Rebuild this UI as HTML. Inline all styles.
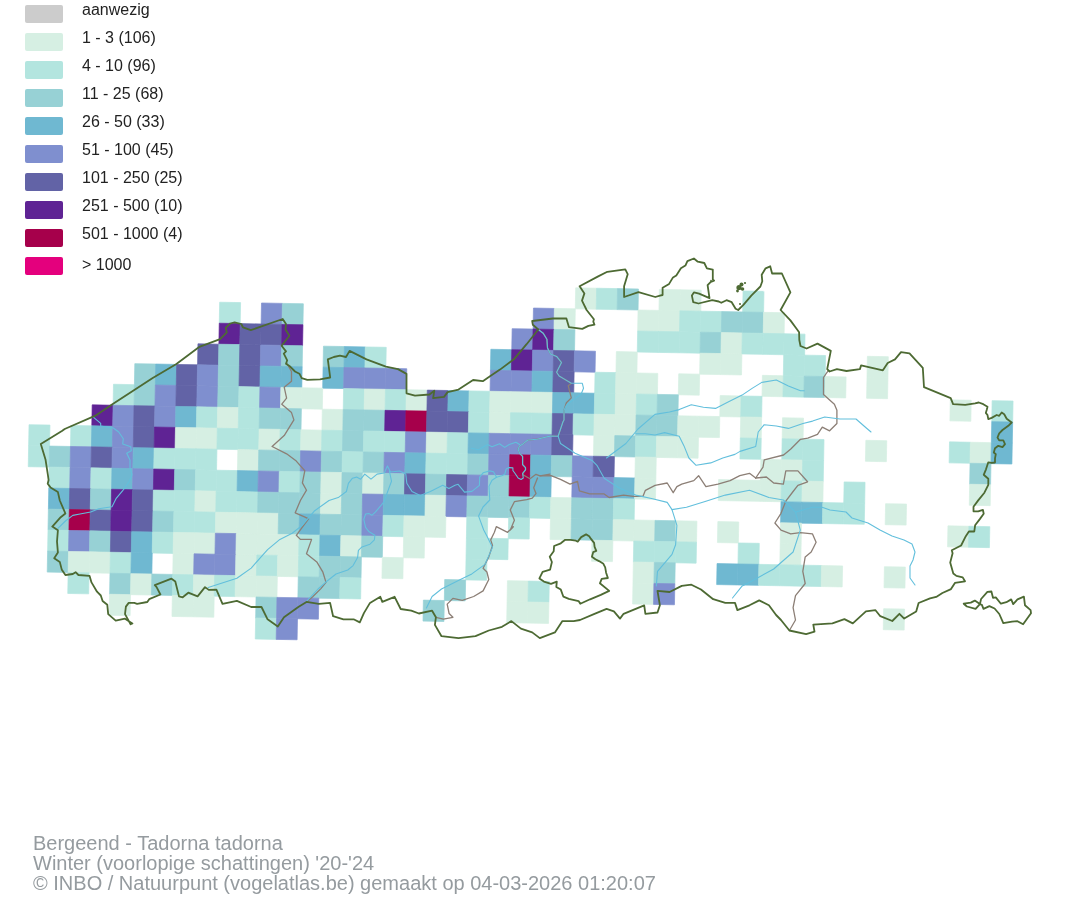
<!DOCTYPE html>
<html><head><meta charset="utf-8"><style>
html,body{margin:0;padding:0;background:#fff;}
body{width:1074px;height:900px;position:relative;overflow:hidden;font-family:"Liberation Sans",sans-serif;}
.sw{position:absolute;left:25px;width:38px;height:18px;border-radius:2px;}
.lb{position:absolute;left:82px;will-change:transform;font-size:16px;line-height:20px;color:#222;white-space:nowrap;}
svg{position:absolute;left:0;top:0;}
.ft{position:absolute;left:33px;top:833px;will-change:transform;font-size:20px;line-height:20px;color:#959b9f;white-space:nowrap;}
</style></head><body>
<div class="sw" style="top:5px;background:#cccccc"></div><div class="lb" style="top:0px">aanwezig</div><div class="sw" style="top:33px;background:#d6efe3"></div><div class="lb" style="top:28px">1 - 3 (106)</div><div class="sw" style="top:61px;background:#b3e5df"></div><div class="lb" style="top:56px">4 - 10 (96)</div><div class="sw" style="top:89px;background:#97d1d5"></div><div class="lb" style="top:84px">11 - 25 (68)</div><div class="sw" style="top:117px;background:#6fb8d1"></div><div class="lb" style="top:112px">26 - 50 (33)</div><div class="sw" style="top:145px;background:#7f8fcf"></div><div class="lb" style="top:140px">51 - 100 (45)</div><div class="sw" style="top:173px;background:#6263a6"></div><div class="lb" style="top:168px">101 - 250 (25)</div><div class="sw" style="top:201px;background:#5f2394"></div><div class="lb" style="top:196px">251 - 500 (10)</div><div class="sw" style="top:229px;background:#a6004b"></div><div class="lb" style="top:224px">501 - 1000 (4)</div><div class="sw" style="top:257px;background:#e4007d"></div><div class="lb" style="top:255px">&gt; 1000</div>
<svg width="1074" height="900" viewBox="0 0 1074 900">
<g stroke-width="0.7"><path fill="#d6efe3" stroke="#d6efe3" d="M575.69 287.84L596.61 288.23L596.22 309.23L575.3 308.84Z"/><path fill="#b3e5df" stroke="#b3e5df" d="M596.61 288.23L617.53 288.62L617.14 309.62L596.22 309.23Z"/><path fill="#97d1d5" stroke="#97d1d5" d="M617.53 288.62L638.45 289.01L638.06 310.01L617.14 309.62Z"/><path fill="#d6efe3" stroke="#d6efe3" d="M659.37 289.4L680.29 289.79L679.9 310.79L658.98 310.4Z"/><path fill="#d6efe3" stroke="#d6efe3" d="M680.29 289.79L701.21 290.18L700.82 311.18L679.9 310.79Z"/><path fill="#b3e5df" stroke="#b3e5df" d="M743.05 290.96L763.97 291.35L763.58 312.35L742.66 311.96Z"/><path fill="#b3e5df" stroke="#b3e5df" d="M219.66 302.21L240.58 302.6L240.19 323.6L219.27 323.21Z"/><path fill="#7f8fcf" stroke="#7f8fcf" d="M261.5 302.99L282.42 303.38L282.03 324.38L261.11 323.99Z"/><path fill="#97d1d5" stroke="#97d1d5" d="M282.42 303.38L303.34 303.77L302.95 324.77L282.03 324.38Z"/><path fill="#7f8fcf" stroke="#7f8fcf" d="M533.46 308.06L554.38 308.45L553.99 329.45L533.07 329.06Z"/><path fill="#d6efe3" stroke="#d6efe3" d="M554.38 308.45L575.3 308.84L574.91 329.84L553.99 329.45Z"/><path fill="#d6efe3" stroke="#d6efe3" d="M638.06 310.01L658.98 310.4L658.59 331.4L637.67 331.01Z"/><path fill="#d6efe3" stroke="#d6efe3" d="M658.98 310.4L679.9 310.79L679.51 331.79L658.59 331.4Z"/><path fill="#b3e5df" stroke="#b3e5df" d="M679.9 310.79L700.82 311.18L700.43 332.18L679.51 331.79Z"/><path fill="#b3e5df" stroke="#b3e5df" d="M700.82 311.18L721.74 311.57L721.35 332.57L700.43 332.18Z"/><path fill="#97d1d5" stroke="#97d1d5" d="M721.74 311.57L742.66 311.96L742.27 332.96L721.35 332.57Z"/><path fill="#97d1d5" stroke="#97d1d5" d="M742.66 311.96L763.58 312.35L763.19 333.35L742.27 332.96Z"/><path fill="#d6efe3" stroke="#d6efe3" d="M763.58 312.35L784.5 312.74L784.11 333.74L763.19 333.35Z"/><path fill="#5f2394" stroke="#5f2394" d="M219.27 323.21L240.19 323.6L239.8 344.6L218.88 344.21Z"/><path fill="#6263a6" stroke="#6263a6" d="M240.19 323.6L261.11 323.99L260.72 344.99L239.8 344.6Z"/><path fill="#6263a6" stroke="#6263a6" d="M261.11 323.99L282.03 324.38L281.64 345.38L260.72 344.99Z"/><path fill="#5f2394" stroke="#5f2394" d="M282.03 324.38L302.95 324.77L302.56 345.77L281.64 345.38Z"/><path fill="#7f8fcf" stroke="#7f8fcf" d="M512.15 328.67L533.07 329.06L532.68 350.06L511.76 349.67Z"/><path fill="#5f2394" stroke="#5f2394" d="M533.07 329.06L553.99 329.45L553.6 350.45L532.68 350.06Z"/><path fill="#97d1d5" stroke="#97d1d5" d="M553.99 329.45L574.91 329.84L574.52 350.84L553.6 350.45Z"/><path fill="#b3e5df" stroke="#b3e5df" d="M637.67 331.01L658.59 331.4L658.2 352.4L637.28 352.01Z"/><path fill="#b3e5df" stroke="#b3e5df" d="M658.59 331.4L679.51 331.79L679.12 352.79L658.2 352.4Z"/><path fill="#b3e5df" stroke="#b3e5df" d="M679.51 331.79L700.43 332.18L700.04 353.18L679.12 352.79Z"/><path fill="#97d1d5" stroke="#97d1d5" d="M700.43 332.18L721.35 332.57L720.96 353.57L700.04 353.18Z"/><path fill="#d6efe3" stroke="#d6efe3" d="M721.35 332.57L742.27 332.96L741.88 353.96L720.96 353.57Z"/><path fill="#b3e5df" stroke="#b3e5df" d="M742.27 332.96L763.19 333.35L762.8 354.35L741.88 353.96Z"/><path fill="#b3e5df" stroke="#b3e5df" d="M763.19 333.35L784.11 333.74L783.72 354.74L762.8 354.35Z"/><path fill="#b3e5df" stroke="#b3e5df" d="M784.11 333.74L805.03 334.13L804.64 355.13L783.72 354.74Z"/><path fill="#6263a6" stroke="#6263a6" d="M197.96 343.82L218.88 344.21L218.49 365.21L197.57 364.82Z"/><path fill="#97d1d5" stroke="#97d1d5" d="M218.88 344.21L239.8 344.6L239.41 365.6L218.49 365.21Z"/><path fill="#6263a6" stroke="#6263a6" d="M239.8 344.6L260.72 344.99L260.33 365.99L239.41 365.6Z"/><path fill="#7f8fcf" stroke="#7f8fcf" d="M260.72 344.99L281.64 345.38L281.25 366.38L260.33 365.99Z"/><path fill="#97d1d5" stroke="#97d1d5" d="M281.64 345.38L302.56 345.77L302.17 366.77L281.25 366.38Z"/><path fill="#97d1d5" stroke="#97d1d5" d="M323.48 346.16L344.4 346.55L344.01 367.55L323.09 367.16Z"/><path fill="#6fb8d1" stroke="#6fb8d1" d="M344.4 346.55L365.32 346.94L364.93 367.94L344.01 367.55Z"/><path fill="#b3e5df" stroke="#b3e5df" d="M365.32 346.94L386.24 347.33L385.85 368.33L364.93 367.94Z"/><path fill="#6fb8d1" stroke="#6fb8d1" d="M490.84 349.28L511.76 349.67L511.37 370.67L490.45 370.28Z"/><path fill="#5f2394" stroke="#5f2394" d="M511.76 349.67L532.68 350.06L532.29 371.06L511.37 370.67Z"/><path fill="#7f8fcf" stroke="#7f8fcf" d="M532.68 350.06L553.6 350.45L553.21 371.45L532.29 371.06Z"/><path fill="#6263a6" stroke="#6263a6" d="M553.6 350.45L574.52 350.84L574.13 371.84L553.21 371.45Z"/><path fill="#7f8fcf" stroke="#7f8fcf" d="M574.52 350.84L595.44 351.23L595.05 372.23L574.13 371.84Z"/><path fill="#d6efe3" stroke="#d6efe3" d="M616.36 351.62L637.28 352.01L636.89 373.01L615.97 372.62Z"/><path fill="#d6efe3" stroke="#d6efe3" d="M700.04 353.18L720.96 353.57L720.57 374.57L699.65 374.18Z"/><path fill="#d6efe3" stroke="#d6efe3" d="M720.96 353.57L741.88 353.96L741.49 374.96L720.57 374.57Z"/><path fill="#b3e5df" stroke="#b3e5df" d="M783.72 354.74L804.64 355.13L804.25 376.13L783.33 375.74Z"/><path fill="#b3e5df" stroke="#b3e5df" d="M804.64 355.13L825.56 355.52L825.17 376.52L804.25 376.13Z"/><path fill="#d6efe3" stroke="#d6efe3" d="M867.4 356.3L888.32 356.69L887.93 377.69L867.01 377.3Z"/><path fill="#97d1d5" stroke="#97d1d5" d="M134.81 363.65L155.73 364.04L155.34 385.04L134.42 384.65Z"/><path fill="#6fb8d1" stroke="#6fb8d1" d="M155.73 364.04L176.65 364.43L176.26 385.43L155.34 385.04Z"/><path fill="#6263a6" stroke="#6263a6" d="M176.65 364.43L197.57 364.82L197.18 385.82L176.26 385.43Z"/><path fill="#7f8fcf" stroke="#7f8fcf" d="M197.57 364.82L218.49 365.21L218.1 386.21L197.18 385.82Z"/><path fill="#97d1d5" stroke="#97d1d5" d="M218.49 365.21L239.41 365.6L239.02 386.6L218.1 386.21Z"/><path fill="#6263a6" stroke="#6263a6" d="M239.41 365.6L260.33 365.99L259.94 386.99L239.02 386.6Z"/><path fill="#6fb8d1" stroke="#6fb8d1" d="M260.33 365.99L281.25 366.38L280.86 387.38L259.94 386.99Z"/><path fill="#6fb8d1" stroke="#6fb8d1" d="M281.25 366.38L302.17 366.77L301.78 387.77L280.86 387.38Z"/><path fill="#6fb8d1" stroke="#6fb8d1" d="M323.09 367.16L344.01 367.55L343.62 388.55L322.7 388.16Z"/><path fill="#7f8fcf" stroke="#7f8fcf" d="M344.01 367.55L364.93 367.94L364.54 388.94L343.62 388.55Z"/><path fill="#7f8fcf" stroke="#7f8fcf" d="M364.93 367.94L385.85 368.33L385.46 389.33L364.54 388.94Z"/><path fill="#7f8fcf" stroke="#7f8fcf" d="M385.85 368.33L406.77 368.72L406.38 389.72L385.46 389.33Z"/><path fill="#7f8fcf" stroke="#7f8fcf" d="M490.45 370.28L511.37 370.67L510.98 391.67L490.06 391.28Z"/><path fill="#7f8fcf" stroke="#7f8fcf" d="M511.37 370.67L532.29 371.06L531.9 392.06L510.98 391.67Z"/><path fill="#6fb8d1" stroke="#6fb8d1" d="M532.29 371.06L553.21 371.45L552.82 392.45L531.9 392.06Z"/><path fill="#6263a6" stroke="#6263a6" d="M553.21 371.45L574.13 371.84L573.74 392.84L552.82 392.45Z"/><path fill="#b3e5df" stroke="#b3e5df" d="M595.05 372.23L615.97 372.62L615.58 393.62L594.66 393.23Z"/><path fill="#d6efe3" stroke="#d6efe3" d="M615.97 372.62L636.89 373.01L636.5 394.01L615.58 393.62Z"/><path fill="#d6efe3" stroke="#d6efe3" d="M636.89 373.01L657.81 373.4L657.42 394.4L636.5 394.01Z"/><path fill="#d6efe3" stroke="#d6efe3" d="M678.73 373.79L699.65 374.18L699.26 395.18L678.34 394.79Z"/><path fill="#d6efe3" stroke="#d6efe3" d="M762.41 375.35L783.33 375.74L782.94 396.74L762.02 396.35Z"/><path fill="#b3e5df" stroke="#b3e5df" d="M783.33 375.74L804.25 376.13L803.86 397.13L782.94 396.74Z"/><path fill="#97d1d5" stroke="#97d1d5" d="M804.25 376.13L825.17 376.52L824.78 397.52L803.86 397.13Z"/><path fill="#d6efe3" stroke="#d6efe3" d="M825.17 376.52L846.09 376.91L845.7 397.91L824.78 397.52Z"/><path fill="#d6efe3" stroke="#d6efe3" d="M867.01 377.3L887.93 377.69L887.54 398.69L866.62 398.3Z"/><path fill="#b3e5df" stroke="#b3e5df" d="M113.5 384.26L134.42 384.65L134.03 405.65L113.11 405.26Z"/><path fill="#97d1d5" stroke="#97d1d5" d="M134.42 384.65L155.34 385.04L154.95 406.04L134.03 405.65Z"/><path fill="#7f8fcf" stroke="#7f8fcf" d="M155.34 385.04L176.26 385.43L175.87 406.43L154.95 406.04Z"/><path fill="#6263a6" stroke="#6263a6" d="M176.26 385.43L197.18 385.82L196.79 406.82L175.87 406.43Z"/><path fill="#7f8fcf" stroke="#7f8fcf" d="M197.18 385.82L218.1 386.21L217.71 407.21L196.79 406.82Z"/><path fill="#97d1d5" stroke="#97d1d5" d="M218.1 386.21L239.02 386.6L238.63 407.6L217.71 407.21Z"/><path fill="#b3e5df" stroke="#b3e5df" d="M239.02 386.6L259.94 386.99L259.55 407.99L238.63 407.6Z"/><path fill="#7f8fcf" stroke="#7f8fcf" d="M259.94 386.99L280.86 387.38L280.47 408.38L259.55 407.99Z"/><path fill="#d6efe3" stroke="#d6efe3" d="M280.86 387.38L301.78 387.77L301.39 408.77L280.47 408.38Z"/><path fill="#d6efe3" stroke="#d6efe3" d="M301.78 387.77L322.7 388.16L322.31 409.16L301.39 408.77Z"/><path fill="#b3e5df" stroke="#b3e5df" d="M343.62 388.55L364.54 388.94L364.15 409.94L343.23 409.55Z"/><path fill="#d6efe3" stroke="#d6efe3" d="M364.54 388.94L385.46 389.33L385.07 410.33L364.15 409.94Z"/><path fill="#b3e5df" stroke="#b3e5df" d="M385.46 389.33L406.38 389.72L405.99 410.72L385.07 410.33Z"/><path fill="#d6efe3" stroke="#d6efe3" d="M406.38 389.72L427.3 390.11L426.91 411.11L405.99 410.72Z"/><path fill="#6263a6" stroke="#6263a6" d="M427.3 390.11L448.22 390.5L447.83 411.5L426.91 411.11Z"/><path fill="#6fb8d1" stroke="#6fb8d1" d="M448.22 390.5L469.14 390.89L468.75 411.89L447.83 411.5Z"/><path fill="#b3e5df" stroke="#b3e5df" d="M469.14 390.89L490.06 391.28L489.67 412.28L468.75 411.89Z"/><path fill="#d6efe3" stroke="#d6efe3" d="M490.06 391.28L510.98 391.67L510.59 412.67L489.67 412.28Z"/><path fill="#d6efe3" stroke="#d6efe3" d="M510.98 391.67L531.9 392.06L531.51 413.06L510.59 412.67Z"/><path fill="#d6efe3" stroke="#d6efe3" d="M531.9 392.06L552.82 392.45L552.43 413.45L531.51 413.06Z"/><path fill="#6fb8d1" stroke="#6fb8d1" d="M552.82 392.45L573.74 392.84L573.35 413.84L552.43 413.45Z"/><path fill="#6fb8d1" stroke="#6fb8d1" d="M573.74 392.84L594.66 393.23L594.27 414.23L573.35 413.84Z"/><path fill="#b3e5df" stroke="#b3e5df" d="M594.66 393.23L615.58 393.62L615.19 414.62L594.27 414.23Z"/><path fill="#d6efe3" stroke="#d6efe3" d="M615.58 393.62L636.5 394.01L636.11 415.01L615.19 414.62Z"/><path fill="#b3e5df" stroke="#b3e5df" d="M636.5 394.01L657.42 394.4L657.03 415.4L636.11 415.01Z"/><path fill="#97d1d5" stroke="#97d1d5" d="M657.42 394.4L678.34 394.79L677.95 415.79L657.03 415.4Z"/><path fill="#d6efe3" stroke="#d6efe3" d="M720.18 395.57L741.1 395.96L740.71 416.96L719.79 416.57Z"/><path fill="#b3e5df" stroke="#b3e5df" d="M741.1 395.96L762.02 396.35L761.63 417.35L740.71 416.96Z"/><path fill="#d6efe3" stroke="#d6efe3" d="M950.3 399.86L971.22 400.25L970.83 421.25L949.91 420.86Z"/><path fill="#b3e5df" stroke="#b3e5df" d="M992.14 400.64L1013.06 401.03L1012.67 422.03L991.75 421.64Z"/><path fill="#5f2394" stroke="#5f2394" d="M92.19 404.87L113.11 405.26L112.72 426.26L91.8 425.87Z"/><path fill="#7f8fcf" stroke="#7f8fcf" d="M113.11 405.26L134.03 405.65L133.64 426.65L112.72 426.26Z"/><path fill="#6263a6" stroke="#6263a6" d="M134.03 405.65L154.95 406.04L154.56 427.04L133.64 426.65Z"/><path fill="#7f8fcf" stroke="#7f8fcf" d="M154.95 406.04L175.87 406.43L175.48 427.43L154.56 427.04Z"/><path fill="#6fb8d1" stroke="#6fb8d1" d="M175.87 406.43L196.79 406.82L196.4 427.82L175.48 427.43Z"/><path fill="#b3e5df" stroke="#b3e5df" d="M196.79 406.82L217.71 407.21L217.32 428.21L196.4 427.82Z"/><path fill="#d6efe3" stroke="#d6efe3" d="M217.71 407.21L238.63 407.6L238.24 428.6L217.32 428.21Z"/><path fill="#b3e5df" stroke="#b3e5df" d="M238.63 407.6L259.55 407.99L259.16 428.99L238.24 428.6Z"/><path fill="#97d1d5" stroke="#97d1d5" d="M259.55 407.99L280.47 408.38L280.08 429.38L259.16 428.99Z"/><path fill="#97d1d5" stroke="#97d1d5" d="M280.47 408.38L301.39 408.77L301 429.77L280.08 429.38Z"/><path fill="#d6efe3" stroke="#d6efe3" d="M322.31 409.16L343.23 409.55L342.84 430.55L321.92 430.16Z"/><path fill="#97d1d5" stroke="#97d1d5" d="M343.23 409.55L364.15 409.94L363.76 430.94L342.84 430.55Z"/><path fill="#97d1d5" stroke="#97d1d5" d="M364.15 409.94L385.07 410.33L384.68 431.33L363.76 430.94Z"/><path fill="#5f2394" stroke="#5f2394" d="M385.07 410.33L405.99 410.72L405.6 431.72L384.68 431.33Z"/><path fill="#a6004b" stroke="#a6004b" d="M405.99 410.72L426.91 411.11L426.52 432.11L405.6 431.72Z"/><path fill="#6263a6" stroke="#6263a6" d="M426.91 411.11L447.83 411.5L447.44 432.5L426.52 432.11Z"/><path fill="#6263a6" stroke="#6263a6" d="M447.83 411.5L468.75 411.89L468.36 432.89L447.44 432.5Z"/><path fill="#b3e5df" stroke="#b3e5df" d="M468.75 411.89L489.67 412.28L489.28 433.28L468.36 432.89Z"/><path fill="#d6efe3" stroke="#d6efe3" d="M489.67 412.28L510.59 412.67L510.2 433.67L489.28 433.28Z"/><path fill="#b3e5df" stroke="#b3e5df" d="M510.59 412.67L531.51 413.06L531.12 434.06L510.2 433.67Z"/><path fill="#b3e5df" stroke="#b3e5df" d="M531.51 413.06L552.43 413.45L552.04 434.45L531.12 434.06Z"/><path fill="#6263a6" stroke="#6263a6" d="M552.43 413.45L573.35 413.84L572.96 434.84L552.04 434.45Z"/><path fill="#b3e5df" stroke="#b3e5df" d="M573.35 413.84L594.27 414.23L593.88 435.23L572.96 434.84Z"/><path fill="#d6efe3" stroke="#d6efe3" d="M594.27 414.23L615.19 414.62L614.8 435.62L593.88 435.23Z"/><path fill="#d6efe3" stroke="#d6efe3" d="M615.19 414.62L636.11 415.01L635.72 436.01L614.8 435.62Z"/><path fill="#97d1d5" stroke="#97d1d5" d="M636.11 415.01L657.03 415.4L656.64 436.4L635.72 436.01Z"/><path fill="#97d1d5" stroke="#97d1d5" d="M657.03 415.4L677.95 415.79L677.56 436.79L656.64 436.4Z"/><path fill="#d6efe3" stroke="#d6efe3" d="M677.95 415.79L698.87 416.18L698.48 437.18L677.56 436.79Z"/><path fill="#d6efe3" stroke="#d6efe3" d="M698.87 416.18L719.79 416.57L719.4 437.57L698.48 437.18Z"/><path fill="#d6efe3" stroke="#d6efe3" d="M740.71 416.96L761.63 417.35L761.24 438.35L740.32 437.96Z"/><path fill="#d6efe3" stroke="#d6efe3" d="M782.55 417.74L803.47 418.13L803.08 439.13L782.16 438.74Z"/><path fill="#6fb8d1" stroke="#6fb8d1" d="M991.75 421.64L1012.67 422.03L1012.28 443.03L991.36 442.64Z"/><path fill="#b3e5df" stroke="#b3e5df" d="M29.04 424.7L49.96 425.09L49.57 446.09L28.65 445.7Z"/><path fill="#b3e5df" stroke="#b3e5df" d="M70.88 425.48L91.8 425.87L91.41 446.87L70.49 446.48Z"/><path fill="#6fb8d1" stroke="#6fb8d1" d="M91.8 425.87L112.72 426.26L112.33 447.26L91.41 446.87Z"/><path fill="#7f8fcf" stroke="#7f8fcf" d="M112.72 426.26L133.64 426.65L133.25 447.65L112.33 447.26Z"/><path fill="#6263a6" stroke="#6263a6" d="M133.64 426.65L154.56 427.04L154.17 448.04L133.25 447.65Z"/><path fill="#5f2394" stroke="#5f2394" d="M154.56 427.04L175.48 427.43L175.09 448.43L154.17 448.04Z"/><path fill="#d6efe3" stroke="#d6efe3" d="M175.48 427.43L196.4 427.82L196.01 448.82L175.09 448.43Z"/><path fill="#d6efe3" stroke="#d6efe3" d="M196.4 427.82L217.32 428.21L216.93 449.21L196.01 448.82Z"/><path fill="#b3e5df" stroke="#b3e5df" d="M217.32 428.21L238.24 428.6L237.85 449.6L216.93 449.21Z"/><path fill="#b3e5df" stroke="#b3e5df" d="M238.24 428.6L259.16 428.99L258.77 449.99L237.85 449.6Z"/><path fill="#d6efe3" stroke="#d6efe3" d="M259.16 428.99L280.08 429.38L279.69 450.38L258.77 449.99Z"/><path fill="#b3e5df" stroke="#b3e5df" d="M280.08 429.38L301 429.77L300.61 450.77L279.69 450.38Z"/><path fill="#d6efe3" stroke="#d6efe3" d="M301 429.77L321.92 430.16L321.53 451.16L300.61 450.77Z"/><path fill="#b3e5df" stroke="#b3e5df" d="M321.92 430.16L342.84 430.55L342.45 451.55L321.53 451.16Z"/><path fill="#97d1d5" stroke="#97d1d5" d="M342.84 430.55L363.76 430.94L363.37 451.94L342.45 451.55Z"/><path fill="#b3e5df" stroke="#b3e5df" d="M363.76 430.94L384.68 431.33L384.29 452.33L363.37 451.94Z"/><path fill="#b3e5df" stroke="#b3e5df" d="M384.68 431.33L405.6 431.72L405.21 452.72L384.29 452.33Z"/><path fill="#7f8fcf" stroke="#7f8fcf" d="M405.6 431.72L426.52 432.11L426.13 453.11L405.21 452.72Z"/><path fill="#d6efe3" stroke="#d6efe3" d="M426.52 432.11L447.44 432.5L447.05 453.5L426.13 453.11Z"/><path fill="#b3e5df" stroke="#b3e5df" d="M447.44 432.5L468.36 432.89L467.97 453.89L447.05 453.5Z"/><path fill="#6fb8d1" stroke="#6fb8d1" d="M468.36 432.89L489.28 433.28L488.89 454.28L467.97 453.89Z"/><path fill="#7f8fcf" stroke="#7f8fcf" d="M489.28 433.28L510.2 433.67L509.81 454.67L488.89 454.28Z"/><path fill="#7f8fcf" stroke="#7f8fcf" d="M510.2 433.67L531.12 434.06L530.73 455.06L509.81 454.67Z"/><path fill="#7f8fcf" stroke="#7f8fcf" d="M531.12 434.06L552.04 434.45L551.65 455.45L530.73 455.06Z"/><path fill="#6263a6" stroke="#6263a6" d="M552.04 434.45L572.96 434.84L572.57 455.84L551.65 455.45Z"/><path fill="#d6efe3" stroke="#d6efe3" d="M593.88 435.23L614.8 435.62L614.41 456.62L593.49 456.23Z"/><path fill="#97d1d5" stroke="#97d1d5" d="M614.8 435.62L635.72 436.01L635.33 457.01L614.41 456.62Z"/><path fill="#b3e5df" stroke="#b3e5df" d="M635.72 436.01L656.64 436.4L656.25 457.4L635.33 457.01Z"/><path fill="#d6efe3" stroke="#d6efe3" d="M656.64 436.4L677.56 436.79L677.17 457.79L656.25 457.4Z"/><path fill="#d6efe3" stroke="#d6efe3" d="M677.56 436.79L698.48 437.18L698.09 458.18L677.17 457.79Z"/><path fill="#b3e5df" stroke="#b3e5df" d="M740.32 437.96L761.24 438.35L760.85 459.35L739.93 458.96Z"/><path fill="#b3e5df" stroke="#b3e5df" d="M782.16 438.74L803.08 439.13L802.69 460.13L781.77 459.74Z"/><path fill="#b3e5df" stroke="#b3e5df" d="M803.08 439.13L824 439.52L823.61 460.52L802.69 460.13Z"/><path fill="#d6efe3" stroke="#d6efe3" d="M865.84 440.3L886.76 440.69L886.37 461.69L865.45 461.3Z"/><path fill="#b3e5df" stroke="#b3e5df" d="M949.52 441.86L970.44 442.25L970.05 463.25L949.13 462.86Z"/><path fill="#d6efe3" stroke="#d6efe3" d="M970.44 442.25L991.36 442.64L990.97 463.64L970.05 463.25Z"/><path fill="#6fb8d1" stroke="#6fb8d1" d="M991.36 442.64L1012.28 443.03L1011.89 464.03L990.97 463.64Z"/><path fill="#b3e5df" stroke="#b3e5df" d="M28.65 445.7L49.57 446.09L49.18 467.09L28.26 466.7Z"/><path fill="#97d1d5" stroke="#97d1d5" d="M49.57 446.09L70.49 446.48L70.1 467.48L49.18 467.09Z"/><path fill="#7f8fcf" stroke="#7f8fcf" d="M70.49 446.48L91.41 446.87L91.02 467.87L70.1 467.48Z"/><path fill="#6263a6" stroke="#6263a6" d="M91.41 446.87L112.33 447.26L111.94 468.26L91.02 467.87Z"/><path fill="#7f8fcf" stroke="#7f8fcf" d="M112.33 447.26L133.25 447.65L132.86 468.65L111.94 468.26Z"/><path fill="#6fb8d1" stroke="#6fb8d1" d="M133.25 447.65L154.17 448.04L153.78 469.04L132.86 468.65Z"/><path fill="#b3e5df" stroke="#b3e5df" d="M154.17 448.04L175.09 448.43L174.7 469.43L153.78 469.04Z"/><path fill="#b3e5df" stroke="#b3e5df" d="M175.09 448.43L196.01 448.82L195.62 469.82L174.7 469.43Z"/><path fill="#b3e5df" stroke="#b3e5df" d="M196.01 448.82L216.93 449.21L216.54 470.21L195.62 469.82Z"/><path fill="#d6efe3" stroke="#d6efe3" d="M237.85 449.6L258.77 449.99L258.38 470.99L237.46 470.6Z"/><path fill="#97d1d5" stroke="#97d1d5" d="M258.77 449.99L279.69 450.38L279.3 471.38L258.38 470.99Z"/><path fill="#97d1d5" stroke="#97d1d5" d="M279.69 450.38L300.61 450.77L300.22 471.77L279.3 471.38Z"/><path fill="#7f8fcf" stroke="#7f8fcf" d="M300.61 450.77L321.53 451.16L321.14 472.16L300.22 471.77Z"/><path fill="#97d1d5" stroke="#97d1d5" d="M321.53 451.16L342.45 451.55L342.06 472.55L321.14 472.16Z"/><path fill="#b3e5df" stroke="#b3e5df" d="M342.45 451.55L363.37 451.94L362.98 472.94L342.06 472.55Z"/><path fill="#97d1d5" stroke="#97d1d5" d="M363.37 451.94L384.29 452.33L383.9 473.33L362.98 472.94Z"/><path fill="#7f8fcf" stroke="#7f8fcf" d="M384.29 452.33L405.21 452.72L404.82 473.72L383.9 473.33Z"/><path fill="#6fb8d1" stroke="#6fb8d1" d="M405.21 452.72L426.13 453.11L425.74 474.11L404.82 473.72Z"/><path fill="#b3e5df" stroke="#b3e5df" d="M426.13 453.11L447.05 453.5L446.66 474.5L425.74 474.11Z"/><path fill="#b3e5df" stroke="#b3e5df" d="M447.05 453.5L467.97 453.89L467.58 474.89L446.66 474.5Z"/><path fill="#97d1d5" stroke="#97d1d5" d="M467.97 453.89L488.89 454.28L488.5 475.28L467.58 474.89Z"/><path fill="#7f8fcf" stroke="#7f8fcf" d="M488.89 454.28L509.81 454.67L509.42 475.67L488.5 475.28Z"/><path fill="#a6004b" stroke="#a6004b" d="M509.81 454.67L530.73 455.06L530.34 476.06L509.42 475.67Z"/><path fill="#6fb8d1" stroke="#6fb8d1" d="M530.73 455.06L551.65 455.45L551.26 476.45L530.34 476.06Z"/><path fill="#97d1d5" stroke="#97d1d5" d="M551.65 455.45L572.57 455.84L572.18 476.84L551.26 476.45Z"/><path fill="#7f8fcf" stroke="#7f8fcf" d="M572.57 455.84L593.49 456.23L593.1 477.23L572.18 476.84Z"/><path fill="#6263a6" stroke="#6263a6" d="M593.49 456.23L614.41 456.62L614.02 477.62L593.1 477.23Z"/><path fill="#d6efe3" stroke="#d6efe3" d="M635.33 457.01L656.25 457.4L655.86 478.4L634.94 478.01Z"/><path fill="#d6efe3" stroke="#d6efe3" d="M760.85 459.35L781.77 459.74L781.38 480.74L760.46 480.35Z"/><path fill="#d6efe3" stroke="#d6efe3" d="M781.77 459.74L802.69 460.13L802.3 481.13L781.38 480.74Z"/><path fill="#b3e5df" stroke="#b3e5df" d="M802.69 460.13L823.61 460.52L823.22 481.52L802.3 481.13Z"/><path fill="#97d1d5" stroke="#97d1d5" d="M970.05 463.25L990.97 463.64L990.58 484.64L969.66 484.25Z"/><path fill="#b3e5df" stroke="#b3e5df" d="M49.18 467.09L70.1 467.48L69.71 488.48L48.79 488.09Z"/><path fill="#7f8fcf" stroke="#7f8fcf" d="M70.1 467.48L91.02 467.87L90.63 488.87L69.71 488.48Z"/><path fill="#b3e5df" stroke="#b3e5df" d="M91.02 467.87L111.94 468.26L111.55 489.26L90.63 488.87Z"/><path fill="#6fb8d1" stroke="#6fb8d1" d="M111.94 468.26L132.86 468.65L132.47 489.65L111.55 489.26Z"/><path fill="#7f8fcf" stroke="#7f8fcf" d="M132.86 468.65L153.78 469.04L153.39 490.04L132.47 489.65Z"/><path fill="#5f2394" stroke="#5f2394" d="M153.78 469.04L174.7 469.43L174.31 490.43L153.39 490.04Z"/><path fill="#97d1d5" stroke="#97d1d5" d="M174.7 469.43L195.62 469.82L195.23 490.82L174.31 490.43Z"/><path fill="#b3e5df" stroke="#b3e5df" d="M195.62 469.82L216.54 470.21L216.15 491.21L195.23 490.82Z"/><path fill="#b3e5df" stroke="#b3e5df" d="M216.54 470.21L237.46 470.6L237.07 491.6L216.15 491.21Z"/><path fill="#6fb8d1" stroke="#6fb8d1" d="M237.46 470.6L258.38 470.99L257.99 491.99L237.07 491.6Z"/><path fill="#7f8fcf" stroke="#7f8fcf" d="M258.38 470.99L279.3 471.38L278.91 492.38L257.99 491.99Z"/><path fill="#b3e5df" stroke="#b3e5df" d="M279.3 471.38L300.22 471.77L299.83 492.77L278.91 492.38Z"/><path fill="#97d1d5" stroke="#97d1d5" d="M300.22 471.77L321.14 472.16L320.75 493.16L299.83 492.77Z"/><path fill="#d6efe3" stroke="#d6efe3" d="M321.14 472.16L342.06 472.55L341.67 493.55L320.75 493.16Z"/><path fill="#97d1d5" stroke="#97d1d5" d="M342.06 472.55L362.98 472.94L362.59 493.94L341.67 493.55Z"/><path fill="#d6efe3" stroke="#d6efe3" d="M362.98 472.94L383.9 473.33L383.51 494.33L362.59 493.94Z"/><path fill="#97d1d5" stroke="#97d1d5" d="M383.9 473.33L404.82 473.72L404.43 494.72L383.51 494.33Z"/><path fill="#6263a6" stroke="#6263a6" d="M404.82 473.72L425.74 474.11L425.35 495.11L404.43 494.72Z"/><path fill="#97d1d5" stroke="#97d1d5" d="M425.74 474.11L446.66 474.5L446.27 495.5L425.35 495.11Z"/><path fill="#6263a6" stroke="#6263a6" d="M446.66 474.5L467.58 474.89L467.19 495.89L446.27 495.5Z"/><path fill="#7f8fcf" stroke="#7f8fcf" d="M467.58 474.89L488.5 475.28L488.11 496.28L467.19 495.89Z"/><path fill="#97d1d5" stroke="#97d1d5" d="M488.5 475.28L509.42 475.67L509.03 496.67L488.11 496.28Z"/><path fill="#a6004b" stroke="#a6004b" d="M509.42 475.67L530.34 476.06L529.95 497.06L509.03 496.67Z"/><path fill="#6fb8d1" stroke="#6fb8d1" d="M530.34 476.06L551.26 476.45L550.87 497.45L529.95 497.06Z"/><path fill="#7f8fcf" stroke="#7f8fcf" d="M572.18 476.84L593.1 477.23L592.71 498.23L571.79 497.84Z"/><path fill="#7f8fcf" stroke="#7f8fcf" d="M593.1 477.23L614.02 477.62L613.63 498.62L592.71 498.23Z"/><path fill="#6fb8d1" stroke="#6fb8d1" d="M614.02 477.62L634.94 478.01L634.55 499.01L613.63 498.62Z"/><path fill="#d6efe3" stroke="#d6efe3" d="M634.94 478.01L655.86 478.4L655.47 499.4L634.55 499.01Z"/><path fill="#d6efe3" stroke="#d6efe3" d="M718.62 479.57L739.54 479.96L739.15 500.96L718.23 500.57Z"/><path fill="#d6efe3" stroke="#d6efe3" d="M739.54 479.96L760.46 480.35L760.07 501.35L739.15 500.96Z"/><path fill="#d6efe3" stroke="#d6efe3" d="M760.46 480.35L781.38 480.74L780.99 501.74L760.07 501.35Z"/><path fill="#b3e5df" stroke="#b3e5df" d="M781.38 480.74L802.3 481.13L801.91 502.13L780.99 501.74Z"/><path fill="#d6efe3" stroke="#d6efe3" d="M802.3 481.13L823.22 481.52L822.83 502.52L801.91 502.13Z"/><path fill="#b3e5df" stroke="#b3e5df" d="M844.14 481.91L865.06 482.3L864.67 503.3L843.75 502.91Z"/><path fill="#d6efe3" stroke="#d6efe3" d="M969.66 484.25L990.58 484.64L990.19 505.64L969.27 505.25Z"/><path fill="#6fb8d1" stroke="#6fb8d1" d="M48.79 488.09L69.71 488.48L69.32 509.48L48.4 509.09Z"/><path fill="#6263a6" stroke="#6263a6" d="M69.71 488.48L90.63 488.87L90.24 509.87L69.32 509.48Z"/><path fill="#97d1d5" stroke="#97d1d5" d="M90.63 488.87L111.55 489.26L111.16 510.26L90.24 509.87Z"/><path fill="#5f2394" stroke="#5f2394" d="M111.55 489.26L132.47 489.65L132.08 510.65L111.16 510.26Z"/><path fill="#6263a6" stroke="#6263a6" d="M132.47 489.65L153.39 490.04L153 511.04L132.08 510.65Z"/><path fill="#b3e5df" stroke="#b3e5df" d="M153.39 490.04L174.31 490.43L173.92 511.43L153 511.04Z"/><path fill="#b3e5df" stroke="#b3e5df" d="M174.31 490.43L195.23 490.82L194.84 511.82L173.92 511.43Z"/><path fill="#d6efe3" stroke="#d6efe3" d="M195.23 490.82L216.15 491.21L215.76 512.21L194.84 511.82Z"/><path fill="#b3e5df" stroke="#b3e5df" d="M216.15 491.21L237.07 491.6L236.68 512.6L215.76 512.21Z"/><path fill="#b3e5df" stroke="#b3e5df" d="M237.07 491.6L257.99 491.99L257.6 512.99L236.68 512.6Z"/><path fill="#97d1d5" stroke="#97d1d5" d="M257.99 491.99L278.91 492.38L278.52 513.38L257.6 512.99Z"/><path fill="#97d1d5" stroke="#97d1d5" d="M278.91 492.38L299.83 492.77L299.44 513.77L278.52 513.38Z"/><path fill="#97d1d5" stroke="#97d1d5" d="M299.83 492.77L320.75 493.16L320.36 514.16L299.44 513.77Z"/><path fill="#d6efe3" stroke="#d6efe3" d="M320.75 493.16L341.67 493.55L341.28 514.55L320.36 514.16Z"/><path fill="#97d1d5" stroke="#97d1d5" d="M341.67 493.55L362.59 493.94L362.2 514.94L341.28 514.55Z"/><path fill="#7f8fcf" stroke="#7f8fcf" d="M362.59 493.94L383.51 494.33L383.12 515.33L362.2 514.94Z"/><path fill="#6fb8d1" stroke="#6fb8d1" d="M383.51 494.33L404.43 494.72L404.04 515.72L383.12 515.33Z"/><path fill="#6fb8d1" stroke="#6fb8d1" d="M404.43 494.72L425.35 495.11L424.96 516.11L404.04 515.72Z"/><path fill="#d6efe3" stroke="#d6efe3" d="M425.35 495.11L446.27 495.5L445.88 516.5L424.96 516.11Z"/><path fill="#7f8fcf" stroke="#7f8fcf" d="M446.27 495.5L467.19 495.89L466.8 516.89L445.88 516.5Z"/><path fill="#97d1d5" stroke="#97d1d5" d="M467.19 495.89L488.11 496.28L487.72 517.28L466.8 516.89Z"/><path fill="#97d1d5" stroke="#97d1d5" d="M488.11 496.28L509.03 496.67L508.64 517.67L487.72 517.28Z"/><path fill="#97d1d5" stroke="#97d1d5" d="M509.03 496.67L529.95 497.06L529.56 518.06L508.64 517.67Z"/><path fill="#b3e5df" stroke="#b3e5df" d="M529.95 497.06L550.87 497.45L550.48 518.45L529.56 518.06Z"/><path fill="#d6efe3" stroke="#d6efe3" d="M550.87 497.45L571.79 497.84L571.4 518.84L550.48 518.45Z"/><path fill="#97d1d5" stroke="#97d1d5" d="M571.79 497.84L592.71 498.23L592.32 519.23L571.4 518.84Z"/><path fill="#97d1d5" stroke="#97d1d5" d="M592.71 498.23L613.63 498.62L613.24 519.62L592.32 519.23Z"/><path fill="#b3e5df" stroke="#b3e5df" d="M613.63 498.62L634.55 499.01L634.16 520.01L613.24 519.62Z"/><path fill="#6fb8d1" stroke="#6fb8d1" d="M780.99 501.74L801.91 502.13L801.52 523.13L780.6 522.74Z"/><path fill="#6fb8d1" stroke="#6fb8d1" d="M801.91 502.13L822.83 502.52L822.44 523.52L801.52 523.13Z"/><path fill="#b3e5df" stroke="#b3e5df" d="M822.83 502.52L843.75 502.91L843.36 523.91L822.44 523.52Z"/><path fill="#b3e5df" stroke="#b3e5df" d="M843.75 502.91L864.67 503.3L864.28 524.3L843.36 523.91Z"/><path fill="#d6efe3" stroke="#d6efe3" d="M885.59 503.69L906.51 504.08L906.12 525.08L885.2 524.69Z"/><path fill="#97d1d5" stroke="#97d1d5" d="M48.4 509.09L69.32 509.48L68.93 530.48L48.01 530.09Z"/><path fill="#a6004b" stroke="#a6004b" d="M69.32 509.48L90.24 509.87L89.85 530.87L68.93 530.48Z"/><path fill="#6263a6" stroke="#6263a6" d="M90.24 509.87L111.16 510.26L110.77 531.26L89.85 530.87Z"/><path fill="#5f2394" stroke="#5f2394" d="M111.16 510.26L132.08 510.65L131.69 531.65L110.77 531.26Z"/><path fill="#6263a6" stroke="#6263a6" d="M132.08 510.65L153 511.04L152.61 532.04L131.69 531.65Z"/><path fill="#97d1d5" stroke="#97d1d5" d="M153 511.04L173.92 511.43L173.53 532.43L152.61 532.04Z"/><path fill="#b3e5df" stroke="#b3e5df" d="M173.92 511.43L194.84 511.82L194.45 532.82L173.53 532.43Z"/><path fill="#b3e5df" stroke="#b3e5df" d="M194.84 511.82L215.76 512.21L215.37 533.21L194.45 532.82Z"/><path fill="#d6efe3" stroke="#d6efe3" d="M215.76 512.21L236.68 512.6L236.29 533.6L215.37 533.21Z"/><path fill="#d6efe3" stroke="#d6efe3" d="M236.68 512.6L257.6 512.99L257.21 533.99L236.29 533.6Z"/><path fill="#d6efe3" stroke="#d6efe3" d="M257.6 512.99L278.52 513.38L278.13 534.38L257.21 533.99Z"/><path fill="#97d1d5" stroke="#97d1d5" d="M278.52 513.38L299.44 513.77L299.05 534.77L278.13 534.38Z"/><path fill="#6fb8d1" stroke="#6fb8d1" d="M299.44 513.77L320.36 514.16L319.97 535.16L299.05 534.77Z"/><path fill="#97d1d5" stroke="#97d1d5" d="M320.36 514.16L341.28 514.55L340.89 535.55L319.97 535.16Z"/><path fill="#97d1d5" stroke="#97d1d5" d="M341.28 514.55L362.2 514.94L361.81 535.94L340.89 535.55Z"/><path fill="#7f8fcf" stroke="#7f8fcf" d="M362.2 514.94L383.12 515.33L382.73 536.33L361.81 535.94Z"/><path fill="#b3e5df" stroke="#b3e5df" d="M383.12 515.33L404.04 515.72L403.65 536.72L382.73 536.33Z"/><path fill="#d6efe3" stroke="#d6efe3" d="M404.04 515.72L424.96 516.11L424.57 537.11L403.65 536.72Z"/><path fill="#d6efe3" stroke="#d6efe3" d="M424.96 516.11L445.88 516.5L445.49 537.5L424.57 537.11Z"/><path fill="#b3e5df" stroke="#b3e5df" d="M466.8 516.89L487.72 517.28L487.33 538.28L466.41 537.89Z"/><path fill="#b3e5df" stroke="#b3e5df" d="M508.64 517.67L529.56 518.06L529.17 539.06L508.25 538.67Z"/><path fill="#d6efe3" stroke="#d6efe3" d="M550.48 518.45L571.4 518.84L571.01 539.84L550.09 539.45Z"/><path fill="#97d1d5" stroke="#97d1d5" d="M571.4 518.84L592.32 519.23L591.93 540.23L571.01 539.84Z"/><path fill="#97d1d5" stroke="#97d1d5" d="M592.32 519.23L613.24 519.62L612.85 540.62L591.93 540.23Z"/><path fill="#d6efe3" stroke="#d6efe3" d="M613.24 519.62L634.16 520.01L633.77 541.01L612.85 540.62Z"/><path fill="#d6efe3" stroke="#d6efe3" d="M634.16 520.01L655.08 520.4L654.69 541.4L633.77 541.01Z"/><path fill="#97d1d5" stroke="#97d1d5" d="M655.08 520.4L676 520.79L675.61 541.79L654.69 541.4Z"/><path fill="#d6efe3" stroke="#d6efe3" d="M676 520.79L696.92 521.18L696.53 542.18L675.61 541.79Z"/><path fill="#d6efe3" stroke="#d6efe3" d="M717.84 521.57L738.76 521.96L738.37 542.96L717.45 542.57Z"/><path fill="#d6efe3" stroke="#d6efe3" d="M780.6 522.74L801.52 523.13L801.13 544.13L780.21 543.74Z"/><path fill="#d6efe3" stroke="#d6efe3" d="M947.96 525.86L968.88 526.25L968.49 547.25L947.57 546.86Z"/><path fill="#b3e5df" stroke="#b3e5df" d="M968.88 526.25L989.8 526.64L989.41 547.64L968.49 547.25Z"/><path fill="#b3e5df" stroke="#b3e5df" d="M48.01 530.09L68.93 530.48L68.54 551.48L47.62 551.09Z"/><path fill="#7f8fcf" stroke="#7f8fcf" d="M68.93 530.48L89.85 530.87L89.46 551.87L68.54 551.48Z"/><path fill="#97d1d5" stroke="#97d1d5" d="M89.85 530.87L110.77 531.26L110.38 552.26L89.46 551.87Z"/><path fill="#6263a6" stroke="#6263a6" d="M110.77 531.26L131.69 531.65L131.3 552.65L110.38 552.26Z"/><path fill="#6fb8d1" stroke="#6fb8d1" d="M131.69 531.65L152.61 532.04L152.22 553.04L131.3 552.65Z"/><path fill="#b3e5df" stroke="#b3e5df" d="M152.61 532.04L173.53 532.43L173.14 553.43L152.22 553.04Z"/><path fill="#d6efe3" stroke="#d6efe3" d="M173.53 532.43L194.45 532.82L194.06 553.82L173.14 553.43Z"/><path fill="#d6efe3" stroke="#d6efe3" d="M194.45 532.82L215.37 533.21L214.98 554.21L194.06 553.82Z"/><path fill="#7f8fcf" stroke="#7f8fcf" d="M215.37 533.21L236.29 533.6L235.9 554.6L214.98 554.21Z"/><path fill="#d6efe3" stroke="#d6efe3" d="M236.29 533.6L257.21 533.99L256.82 554.99L235.9 554.6Z"/><path fill="#d6efe3" stroke="#d6efe3" d="M257.21 533.99L278.13 534.38L277.74 555.38L256.82 554.99Z"/><path fill="#d6efe3" stroke="#d6efe3" d="M278.13 534.38L299.05 534.77L298.66 555.77L277.74 555.38Z"/><path fill="#b3e5df" stroke="#b3e5df" d="M299.05 534.77L319.97 535.16L319.58 556.16L298.66 555.77Z"/><path fill="#6fb8d1" stroke="#6fb8d1" d="M319.97 535.16L340.89 535.55L340.5 556.55L319.58 556.16Z"/><path fill="#d6efe3" stroke="#d6efe3" d="M340.89 535.55L361.81 535.94L361.42 556.94L340.5 556.55Z"/><path fill="#97d1d5" stroke="#97d1d5" d="M361.81 535.94L382.73 536.33L382.34 557.33L361.42 556.94Z"/><path fill="#d6efe3" stroke="#d6efe3" d="M403.65 536.72L424.57 537.11L424.18 558.11L403.26 557.72Z"/><path fill="#b3e5df" stroke="#b3e5df" d="M466.41 537.89L487.33 538.28L486.94 559.28L466.02 558.89Z"/><path fill="#b3e5df" stroke="#b3e5df" d="M487.33 538.28L508.25 538.67L507.86 559.67L486.94 559.28Z"/><path fill="#d6efe3" stroke="#d6efe3" d="M591.93 540.23L612.85 540.62L612.46 561.62L591.54 561.23Z"/><path fill="#b3e5df" stroke="#b3e5df" d="M633.77 541.01L654.69 541.4L654.3 562.4L633.38 562.01Z"/><path fill="#b3e5df" stroke="#b3e5df" d="M654.69 541.4L675.61 541.79L675.22 562.79L654.3 562.4Z"/><path fill="#b3e5df" stroke="#b3e5df" d="M675.61 541.79L696.53 542.18L696.14 563.18L675.22 562.79Z"/><path fill="#b3e5df" stroke="#b3e5df" d="M738.37 542.96L759.29 543.35L758.9 564.35L737.98 563.96Z"/><path fill="#d6efe3" stroke="#d6efe3" d="M780.21 543.74L801.13 544.13L800.74 565.13L779.82 564.74Z"/><path fill="#97d1d5" stroke="#97d1d5" d="M47.62 551.09L68.54 551.48L68.15 572.48L47.23 572.09Z"/><path fill="#d6efe3" stroke="#d6efe3" d="M68.54 551.48L89.46 551.87L89.07 572.87L68.15 572.48Z"/><path fill="#d6efe3" stroke="#d6efe3" d="M89.46 551.87L110.38 552.26L109.99 573.26L89.07 572.87Z"/><path fill="#b3e5df" stroke="#b3e5df" d="M110.38 552.26L131.3 552.65L130.91 573.65L109.99 573.26Z"/><path fill="#6fb8d1" stroke="#6fb8d1" d="M131.3 552.65L152.22 553.04L151.83 574.04L130.91 573.65Z"/><path fill="#d6efe3" stroke="#d6efe3" d="M173.14 553.43L194.06 553.82L193.67 574.82L172.75 574.43Z"/><path fill="#7f8fcf" stroke="#7f8fcf" d="M194.06 553.82L214.98 554.21L214.59 575.21L193.67 574.82Z"/><path fill="#7f8fcf" stroke="#7f8fcf" d="M214.98 554.21L235.9 554.6L235.51 575.6L214.59 575.21Z"/><path fill="#d6efe3" stroke="#d6efe3" d="M235.9 554.6L256.82 554.99L256.43 575.99L235.51 575.6Z"/><path fill="#b3e5df" stroke="#b3e5df" d="M256.82 554.99L277.74 555.38L277.35 576.38L256.43 575.99Z"/><path fill="#d6efe3" stroke="#d6efe3" d="M277.74 555.38L298.66 555.77L298.27 576.77L277.35 576.38Z"/><path fill="#b3e5df" stroke="#b3e5df" d="M298.66 555.77L319.58 556.16L319.19 577.16L298.27 576.77Z"/><path fill="#97d1d5" stroke="#97d1d5" d="M319.58 556.16L340.5 556.55L340.11 577.55L319.19 577.16Z"/><path fill="#97d1d5" stroke="#97d1d5" d="M340.5 556.55L361.42 556.94L361.03 577.94L340.11 577.55Z"/><path fill="#d6efe3" stroke="#d6efe3" d="M382.34 557.33L403.26 557.72L402.87 578.72L381.95 578.33Z"/><path fill="#b3e5df" stroke="#b3e5df" d="M466.02 558.89L486.94 559.28L486.55 580.28L465.63 579.89Z"/><path fill="#d6efe3" stroke="#d6efe3" d="M633.38 562.01L654.3 562.4L653.91 583.4L632.99 583.01Z"/><path fill="#97d1d5" stroke="#97d1d5" d="M654.3 562.4L675.22 562.79L674.83 583.79L653.91 583.4Z"/><path fill="#6fb8d1" stroke="#6fb8d1" d="M717.06 563.57L737.98 563.96L737.59 584.96L716.67 584.57Z"/><path fill="#6fb8d1" stroke="#6fb8d1" d="M737.98 563.96L758.9 564.35L758.51 585.35L737.59 584.96Z"/><path fill="#b3e5df" stroke="#b3e5df" d="M758.9 564.35L779.82 564.74L779.43 585.74L758.51 585.35Z"/><path fill="#b3e5df" stroke="#b3e5df" d="M779.82 564.74L800.74 565.13L800.35 586.13L779.43 585.74Z"/><path fill="#b3e5df" stroke="#b3e5df" d="M800.74 565.13L821.66 565.52L821.27 586.52L800.35 586.13Z"/><path fill="#d6efe3" stroke="#d6efe3" d="M821.66 565.52L842.58 565.91L842.19 586.91L821.27 586.52Z"/><path fill="#d6efe3" stroke="#d6efe3" d="M884.42 566.69L905.34 567.08L904.95 588.08L884.03 587.69Z"/><path fill="#b3e5df" stroke="#b3e5df" d="M68.15 572.48L89.07 572.87L88.68 593.87L67.76 593.48Z"/><path fill="#97d1d5" stroke="#97d1d5" d="M109.99 573.26L130.91 573.65L130.52 594.65L109.6 594.26Z"/><path fill="#d6efe3" stroke="#d6efe3" d="M130.91 573.65L151.83 574.04L151.44 595.04L130.52 594.65Z"/><path fill="#97d1d5" stroke="#97d1d5" d="M151.83 574.04L172.75 574.43L172.36 595.43L151.44 595.04Z"/><path fill="#b3e5df" stroke="#b3e5df" d="M172.75 574.43L193.67 574.82L193.28 595.82L172.36 595.43Z"/><path fill="#d6efe3" stroke="#d6efe3" d="M193.67 574.82L214.59 575.21L214.2 596.21L193.28 595.82Z"/><path fill="#b3e5df" stroke="#b3e5df" d="M214.59 575.21L235.51 575.6L235.12 596.6L214.2 596.21Z"/><path fill="#d6efe3" stroke="#d6efe3" d="M235.51 575.6L256.43 575.99L256.04 596.99L235.12 596.6Z"/><path fill="#d6efe3" stroke="#d6efe3" d="M256.43 575.99L277.35 576.38L276.96 597.38L256.04 596.99Z"/><path fill="#97d1d5" stroke="#97d1d5" d="M298.27 576.77L319.19 577.16L318.8 598.16L297.88 597.77Z"/><path fill="#97d1d5" stroke="#97d1d5" d="M319.19 577.16L340.11 577.55L339.72 598.55L318.8 598.16Z"/><path fill="#b3e5df" stroke="#b3e5df" d="M340.11 577.55L361.03 577.94L360.64 598.94L339.72 598.55Z"/><path fill="#97d1d5" stroke="#97d1d5" d="M444.71 579.5L465.63 579.89L465.24 600.89L444.32 600.5Z"/><path fill="#d6efe3" stroke="#d6efe3" d="M507.47 580.67L528.39 581.06L528 602.06L507.08 601.67Z"/><path fill="#b3e5df" stroke="#b3e5df" d="M528.39 581.06L549.31 581.45L548.92 602.45L528 602.06Z"/><path fill="#d6efe3" stroke="#d6efe3" d="M632.99 583.01L653.91 583.4L653.52 604.4L632.6 604.01Z"/><path fill="#7f8fcf" stroke="#7f8fcf" d="M653.91 583.4L674.83 583.79L674.44 604.79L653.52 604.4Z"/><path fill="#d6efe3" stroke="#d6efe3" d="M109.6 594.26L130.52 594.65L130.13 615.65L109.21 615.26Z"/><path fill="#d6efe3" stroke="#d6efe3" d="M172.36 595.43L193.28 595.82L192.89 616.82L171.97 616.43Z"/><path fill="#d6efe3" stroke="#d6efe3" d="M193.28 595.82L214.2 596.21L213.81 617.21L192.89 616.82Z"/><path fill="#97d1d5" stroke="#97d1d5" d="M256.04 596.99L276.96 597.38L276.57 618.38L255.65 617.99Z"/><path fill="#7f8fcf" stroke="#7f8fcf" d="M276.96 597.38L297.88 597.77L297.49 618.77L276.57 618.38Z"/><path fill="#7f8fcf" stroke="#7f8fcf" d="M297.88 597.77L318.8 598.16L318.41 619.16L297.49 618.77Z"/><path fill="#97d1d5" stroke="#97d1d5" d="M423.4 600.11L444.32 600.5L443.93 621.5L423.01 621.11Z"/><path fill="#d6efe3" stroke="#d6efe3" d="M507.08 601.67L528 602.06L527.61 623.06L506.69 622.67Z"/><path fill="#d6efe3" stroke="#d6efe3" d="M528 602.06L548.92 602.45L548.53 623.45L527.61 623.06Z"/><path fill="#d6efe3" stroke="#d6efe3" d="M883.64 608.69L904.56 609.08L904.17 630.08L883.25 629.69Z"/><path fill="#b3e5df" stroke="#b3e5df" d="M255.65 617.99L276.57 618.38L276.18 639.38L255.26 638.99Z"/><path fill="#7f8fcf" stroke="#7f8fcf" d="M276.57 618.38L297.49 618.77L297.1 639.77L276.18 639.38Z"/></g>
<g fill="none" stroke="#8c7f76" stroke-width="1.3" stroke-linejoin="round" stroke-linecap="round"><path d="M286.6 363.0 L291.5 371.5 L291.5 381.2 L284.2 387.2 L286.6 398.1 L281.8 404.2 L291.5 412.6 L293.9 419.9 L284.2 435.6 L272.1 446.5 L286.6 453.8 L296.3 461.1 L304.8 470.8 L302.4 482.9 L306.5 490.2 L300.4 500.5 L295.2 512.8 L304.5 516.9 L308.6 518.9 L302.4 527.1 L296.3 535.3 L300.4 539.4 L311.6 539.4 L306.5 553.7 L316.8 561.9 L322.9 572.2 L326.0 582.4 L320.9 588.6 L312.7 596.8 L306.5 601.9"/><path d="M538.3 329.5 L543.2 333.2 L546.9 339.3 L547.5 347.9 L550.5 354.0 L556.6 356.4 L561.5 362.5 L556.6 372.3 L559.1 376.0 L565.2 379.6 L571.3 383.3 L568.2 385.7 L571.3 397.9 L566.4 402.8 L564.0 410.2 L564.0 420.0 L563.0 421.7 L558.1 436.2 L550.0 436.1 L537.0 439.2 L527.8 440.0 L523.3 443.7 L519.6 446.0 L518.1 448.9 L519.6 453.4 L522.6 456.4 L522.6 464.6 L525.5 467.6 L525.5 469.8 L522.6 473.5 L523.3 475.0 L530.0 478.7 L536.0 474.3 L540.0 475.8 L550.0 474.1"/><path d="M537.5 478.0 L533.7 487.7 L536.0 493.6 L532.3 498.1 L526.7 499.7 L514.4 501.7 L510.3 509.9 L514.4 520.2 L510.3 530.0 L513.3 526.7 L513.3 526.7 L507.6 532.3 L496.3 526.7 L494.4 532.3 L490.7 539.9 L492.5 545.5 L488.8 556.9 L483.1 568.2 L486.9 572.0 L488.8 579.5 L483.1 590.9 L473.7 596.5 L462.3 600.3 L452.9 598.4 L447.2 604.1 L449.1 613.5 L452.9 617.3 L443.4 619.2 L435.9 617.3"/><path d="M540.0 475.8 L551.1 475.7 L560.5 479.4 L570.0 484.2 L577.5 481.3 L579.4 490.8 L589.7 493.9 L604.2 493.9 L609.1 497.5 L623.6 495.1 L633.3 496.3 L643.0 496.3 L645.4 490.3 L655.1 485.4 L667.2 483.0 L673.2 492.7 L676.9 486.6 L681.7 484.2 L693.8 480.6 L698.6 475.7 L705.9 486.6 L718.0 484.2 L730.1 480.6 L739.8 475.7 L749.5 473.3 L755.7 478.0"/><path d="M828.4 370.3 L823.5 377.5 L823.5 394.5 L834.4 404.2 L836.9 410.2 L836.9 423.5 L829.6 430.8 L822.3 427.2 L817.5 434.4 L807.8 438.1 L800.5 439.3 L790.8 449.0 L783.6 455.0 L764.2 459.9 L763.0 467.1 L755.7 478.0"/><path d="M755.7 478.0 L766.4 477.0 L773.7 483.0 L783.4 484.2 L785.8 470.9 L797.9 470.9 L807.6 481.8 L797.9 485.4 L793.1 491.5 L785.8 501.2 L781.0 513.3 L774.9 523.0 L781.0 530.2 L790.7 533.8 L800.3 532.6 L812.4 533.8 L816.1 542.3 L811.2 552.0 L805.2 556.9 L802.8 571.4 L805.2 583.5 L795.5 595.6 L793.1 607.7 L795.5 620.0 L789.4 630.5"/></g><g fill="none" stroke="#62bfdc" stroke-width="1.1" stroke-linejoin="round" stroke-linecap="round"><path d="M92.7 416.7 L100.7 423.3 L100.7 426.0 L113.3 428.0 L118.7 432.0 L123.3 438.7 L122.7 444.0 L130.7 446.7 L131.3 450.7 L126.7 453.3 L130.0 460.0 L130.0 468.0 L132.0 474.7 L129.3 481.3 L122.7 490.7 L116.0 498.7 L112.0 506.7 L98.7 508.7 L90.7 512.0 L80.0 514.0 L72.8 515.4 L65.4 521.0 L57.9 528.4"/><path d="M208.2 587.5 L236.9 578.3 L251.2 568.1 L267.6 549.6 L279.9 539.4 L292.2 533.3 L302.4 525.1 L314.7 510.7 L329.0 500.5 L338.2 497.6 L346.4 491.5 L348.4 483.3 L352.5 478.2 L356.6 477.1 L360.7 479.2 L364.8 474.1 L371.0 479.2 L377.1 474.1 L384.3 473.0 L387.4 465.9 L390.5 472.0 L399.7 471.0 L405.8 474.1 L406.8 483.3 L412.0 491.5 L420.2 495.6 L430.4 491.5 L442.7 485.3 L448.9 488.4 L455.0 485.3 L458.1 484.3 L464.5 492.1 L471.9 491.4 L479.4 485.4 L479.7 477.2 L483.1 472.8 L489.8 470.9 L493.5 471.7 L496.5 477.2 L501.7 475.8 L504.7 474.3 L506.2 469.0 L509.2 467.6 L512.9 467.9 L512.9 470.5 L515.1 473.5 L518.1 478.0 L521.1 479.5 L523.3 478.0 L522.6 473.5 L525.5 469.8 L525.5 467.6 L522.6 464.6 L522.6 456.4 L519.6 453.4 L518.1 448.9 L519.6 446.0 L523.3 443.7 L527.8 440.0 L537.0 439.2 L550.0 436.1 L558.1 436.2 L560.5 443.5 L575.1 453.2 L592.0 460.4 L596.9 465.3 L604.2 478.2 L618.7 487.8 L635.7 495.1 L652.6 498.7 L667.2 502.4 L672.0 509.6 L686.5 507.2 L705.9 501.2 L725.3 495.1 L749.5 490.3 L768.9 497.5 L783.4 500.0 L795.5 512.1 L812.4 507.2 L822.1 507.2 L830.0 510.0 L846.0 512.0 L852.0 518.0 L868.0 523.0 L880.0 530.0 L892.0 536.0 L904.0 540.0 L912.0 544.0 L915.0 552.0 L913.0 560.0 L910.0 566.0 L910.0 578.0 L915.0 585.0"/><path d="M306.5 601.4 L318.0 589.0 L325.6 582.3 L336.0 574.0 L347.8 570.0 L353.1 565.6 L357.6 557.6 L358.4 550.4 L362.0 546.9 L370.0 544.2 L374.4 539.8 L374.9 535.3 L369.1 531.8 L365.6 527.3 L363.8 519.3 L365.6 514.0 L369.1 513.6 L371.8 515.3 L375.3 512.2 L379.8 506.9 L384.2 501.6 L386.9 493.6 L391.5 481.2 L389.4 471.0"/><path d="M538.3 329.5 L543.2 333.2 L546.9 339.3 L547.5 347.9 L550.5 354.0 L556.6 356.4 L561.5 362.5 L556.6 372.3 L559.1 376.0 L565.2 379.6 L571.3 383.3 L582.3 383.3 L583.5 388.2 L581.1 394.3 L572.5 400.4 L566.4 405.3 L564.0 410.2 L564.0 420.0 L563.0 421.7 L558.1 436.2"/><path d="M471.2 448.2 L478.6 449.7 L487.6 444.5 L492.0 446.7 L499.5 443.7 L504.7 447.4 L509.2 444.5 L515.9 442.2 L519.6 444.5"/><path d="M426.4 607.9 L432.1 596.5 L441.5 589.0 L460.4 579.5 L471.8 573.9 L485.0 564.4 L492.5 547.4 L486.9 536.1 L483.7 530.0 L478.6 516.1 L483.0 507.0 L489.8 500.0 L489.0 486.2 L492.0 480.2 L496.5 477.2"/><path d="M606.5 458.0 L625.9 443.5 L638.0 429.0 L655.0 414.4 L669.5 412.0 L679.2 409.6 L691.3 404.7 L703.4 407.2 L715.5 408.4 L727.6 402.3 L742.1 395.1 L752.1 388.4 L761.8 382.4 L776.3 380.0 L788.4 386.0 L800.5 390.8 L804.2 390.8"/><path d="M635.6 433.8 L645.3 433.8 L655.0 435.0 L664.6 432.6 L679.2 436.2 L684.0 445.9 L688.9 458.0 L696.1 465.3 L710.7 462.9 L722.8 458.0 L734.9 454.4 L740.0 451.4 L755.7 446.5 L758.2 432.0 L764.2 424.7 L776.3 426.0 L788.4 428.4 L803.0 423.5 L812.6 421.1 L824.7 417.0 L840.0 419.0 L856.0 419.0 L864.0 426.0 L871.0 432.0"/><path d="M672.0 509.6 L676.9 525.4 L675.6 544.7 L672.0 554.4 L657.5 571.4 L656.3 585.9"/><path d="M795.5 512.1 L800.3 530.2 L793.1 552.0 L773.7 569.0 L751.9 581.1 L742.2 585.9 L732.5 598.0"/></g><g fill="none" stroke="#4d6a33" stroke-width="1.8" stroke-linejoin="round"><path d="M40.8 443.9 L61.9 431.0 L64.7 429.0 L95.4 415.7 L112.0 404.5 L152.7 378.0 L176.4 364.0 L198.8 347.3 L200.0 346.6 L220.1 339.1 L226.8 332.4 L225.7 327.9 L230.2 323.5 L234.6 322.3 L241.3 324.0 L243.0 327.4 L250.8 330.2 L282.7 319.0 L286.0 324.0 L285.5 329.6 L289.4 335.8 L281.6 345.8 L286.0 351.4 L283.8 353.6 L287.2 360.3 L286.0 363.7 L289.4 365.9 L295.0 371.5 L299.4 373.7 L301.7 378.2 L307.3 379.9 L320.0 379.3 L330.2 377.5 L327.8 359.4 L333.8 357.0 L339.9 355.7 L346.0 357.0 L349.6 350.9 L366.5 359.4 L385.9 366.6 L398.0 369.1 L406.5 373.9 L406.5 393.3 L415.0 395.7 L429.5 394.5 L434.3 390.8 L433.1 398.1 L444.0 396.9 L447.6 392.1 L458.5 389.6 L473.1 380.0 L482.8 381.2 L490.0 376.3 L500.0 369.6 L514.5 358.7 L526.6 344.2 L538.3 329.5 L532.8 324.7 L532.2 321.0 L553.0 318.5 L566.4 318.5 L568.9 327.1 L582.3 328.9 L588.4 325.9 L594.5 324.7 L593.3 321.6 L593.9 319.2 L586.6 310.0 L582.0 300.6 L584.4 293.4 L579.6 286.2 L597.7 276.6 L607.3 271.8 L625.3 269.4 L627.7 274.2 L624.1 286.2 L624.1 297.0 L638.5 292.2 L655.3 297.0 L660.0 295.6 L662.6 295.0 L662.6 287.8 L669.1 283.9 L673.0 277.4 L676.3 275.4 L680.9 268.3 L685.4 265.6 L687.4 261.1 L693.9 258.5 L697.8 261.7 L704.3 263.0 L706.9 268.3 L712.8 269.6 L712.8 279.3 L714.1 280.6 L710.8 281.9 L707.6 285.2 L709.5 298.2 L699.1 293.7 L693.9 292.4 L691.9 295.6 L693.2 302.2 L698.5 303.5 L712.2 300.2 L718.7 301.5 L721.3 302.8 L726.5 300.2 L731.7 302.2 L735.6 308.7 L738.2 310.0 L743.4 304.8 L751.3 295.6 L760.4 286.5 L762.3 281.3 L761.7 274.8 L765.6 268.3 L770.2 266.3 L772.1 273.5 L781.9 273.5 L790.4 292.4 L780.6 310.0 L790.4 320.4 L796.2 328.2 L799.1 332.2 L799.3 340.0 L800.5 346.0 L806.6 348.5 L817.5 343.6 L830.8 350.9 L827.2 369.1 L829.6 371.5 L836.9 369.1 L846.5 371.0 L859.9 369.1 L861.1 365.4 L882.9 370.3 L887.7 363.0 L895.0 359.4 L901.0 352.1 L909.5 353.3 L922.8 367.8 L924.0 387.2 L950.7 398.1 L953.1 404.2 L965.2 404.9 L975.0 403.3 L978.8 402.5 L983.3 404.2 L987.5 406.7 L986.7 410.0 L985.8 412.9 L987.5 415.0 L988.3 419.2 L991.7 417.9 L996.7 415.0 L999.2 415.8 L1001.7 412.5 L1004.2 414.2 L1006.7 418.8 L1011.7 422.5 L1008.3 425.8 L1002.5 430.0 L999.2 433.3 L997.5 437.5 L999.2 440.4 L1003.3 440.4 L1005.0 444.2 L1002.5 447.1 L998.3 445.8 L995.0 448.3 L993.8 452.5 L995.8 454.2 L995.0 458.3 L995.0 462.5 L991.7 462.9 L988.3 462.3 L986.0 469.3 L983.7 474.8 L988.3 478.7 L988.3 484.9 L984.4 492.7 L978.2 500.4 L973.5 506.7 L973.5 511.3 L978.2 511.3 L982.9 509.8 L983.7 513.7 L979.8 519.1 L975.1 525.3 L974.3 531.5 L968.9 531.5 L965.8 536.2 L961.1 545.5 L951.8 550.2 L952.6 553.3 L950.2 562.6 L953.3 573.5 L956.4 575.9 L962.7 577.4 L965.0 581.3 L954.9 582.9 L951.0 589.1 L942.4 593.0 L936.2 596.9 L930.0 598.4 L918.6 603.0 L916.2 611.4 L904.2 618.6 L899.4 613.8 L892.3 621.0 L880.3 616.2 L875.5 610.2 L865.9 611.4 L852.8 623.4 L844.4 619.1 L832.4 623.4 L813.3 624.6 L814.5 631.7 L806.1 634.1 L789.4 630.5 L781.0 620.0 L776.1 615.0 L768.9 605.3 L759.2 600.4 L749.5 605.3 L737.4 610.1 L735.0 602.9 L725.3 602.9 L713.2 599.2 L701.0 589.5 L691.4 584.7 L681.7 585.9 L669.6 592.0 L657.5 590.8 L659.9 605.3 L657.5 612.5 L645.4 613.8 L644.2 605.3 L635.7 608.9 L623.6 613.8 L620.0 618.6 L613.9 611.3 L606.6 608.9 L594.5 613.8 L580.0 620.0 L573.7 621.1 L562.4 621.1 L554.9 632.4 L539.8 638.1 L532.2 632.4 L520.9 628.6 L511.4 621.1 L502.0 626.8 L488.8 630.5 L475.5 636.2 L458.5 638.1 L441.5 636.2 L434.9 624.9 L435.9 617.3 L432.1 610.7 L418.9 613.5 L411.3 610.7 L400.7 609.0 L394.6 596.8 L382.3 601.9 L380.3 596.8 L370.0 602.9 L363.9 613.1 L359.8 622.4 L353.6 619.3 L343.4 619.3 L333.1 616.2 L330.1 602.9 L318.8 603.9 L306.5 601.9 L298.3 607.0 L284.0 617.2 L277.8 626.5 L267.6 619.3 L261.5 607.0 L251.2 607.0 L236.9 600.9 L222.5 603.9 L216.4 589.6 L208.8 589.9 L205.0 587.1 L197.6 596.4 L188.3 592.7 L182.7 597.3 L179.0 596.4 L175.3 581.5 L171.5 578.7 L154.8 585.2 L156.6 587.1 L160.4 594.5 L149.2 599.2 L147.3 602.0 L137.1 603.8 L134.3 602.9 L128.7 602.9 L125.9 606.6 L125.0 614.1 L130.6 624.3 L132.4 623.4 L125.0 618.7 L115.7 620.6 L108.2 614.1 L107.3 604.8 L102.6 601.0 L100.8 595.5 L97.0 591.7 L91.5 582.4 L89.6 575.9 L78.4 575.0 L75.6 572.2 L72.8 574.0 L65.4 575.0 L61.7 569.4 L59.8 561.9 L54.2 558.2 L57.9 552.6 L57.0 541.5 L57.9 530.3 L52.3 526.6 L60.7 517.2 L65.4 513.5 L59.8 500.5 L57.9 492.1 L50.5 487.4 L47.7 483.7 L48.6 480.0 L47.9 475.0 L45.5 459.4 L40.8 443.9Z"/><path d="M577.7 541.6 L581.2 537.1 L586.1 534.4 L589.2 536.2 L591.0 538.9 L594.1 542.9 L594.6 546.9 L596.3 550.9 L593.2 552.2 L591.9 556.7 L595.4 559.3 L599.0 561.1 L603.4 563.8 L605.2 567.3 L606.1 572.7 L607.9 578.0 L601.7 578.9 L599.9 583.3 L609.2 590.9 L600.8 594.9 L590.1 599.3 L580.3 603.8 L578.6 601.1 L568.8 598.9 L563.4 596.7 L560.8 589.6 L556.3 586.9 L556.8 581.6 L551.0 583.8 L543.9 581.6 L539.4 578.4 L542.6 571.8 L550.1 569.6 L551.9 562.0 L549.7 556.7 L553.7 551.3 L554.1 546.0 L560.8 543.3 L565.2 539.8 L570.6 539.8 L575.9 540.7Z"/><path d="M979.9 604.1 L981.1 599.0 L987.4 591.9 L991.4 591.5 L993.0 597.8 L995.8 597.4 L1000.9 603.7 L1006.4 602.2 L1011.2 599.4 L1013.2 604.1 L1017.5 599.4 L1023.9 596.6 L1025.0 605.3 L1030.6 610.1 L1031.0 613.2 L1023.1 624.3 L1017.5 621.2 L1012.0 621.6 L1003.3 623.1 L999.3 614.0 L994.6 608.5 L989.4 606.1 L983.5 608.9 L981.9 604.9 L979.9 604.1 L974.8 600.6 L970.8 602.6 L963.7 603.7 L966.9 606.5 L975.6 608.9 L979.9 604.1Z"/><g fill="#4d6a33" stroke="none"><circle cx="741.5" cy="284.5" r="2"/><circle cx="739" cy="287.5" r="2.6"/><circle cx="742.5" cy="289" r="1.8"/><circle cx="737.5" cy="291" r="1.4"/><circle cx="745" cy="283" r="1.1"/><circle cx="740" cy="304" r="1"/><circle cx="711" cy="280.5" r="0.8"/></g></g>
</svg>
<div class="ft">Bergeend - Tadorna tadorna<br>Winter (voorlopige schattingen) '20-'24<br>&copy; INBO / Natuurpunt (vogelatlas.be) gemaakt op 04-03-2026 01:20:07</div>
</body></html>
